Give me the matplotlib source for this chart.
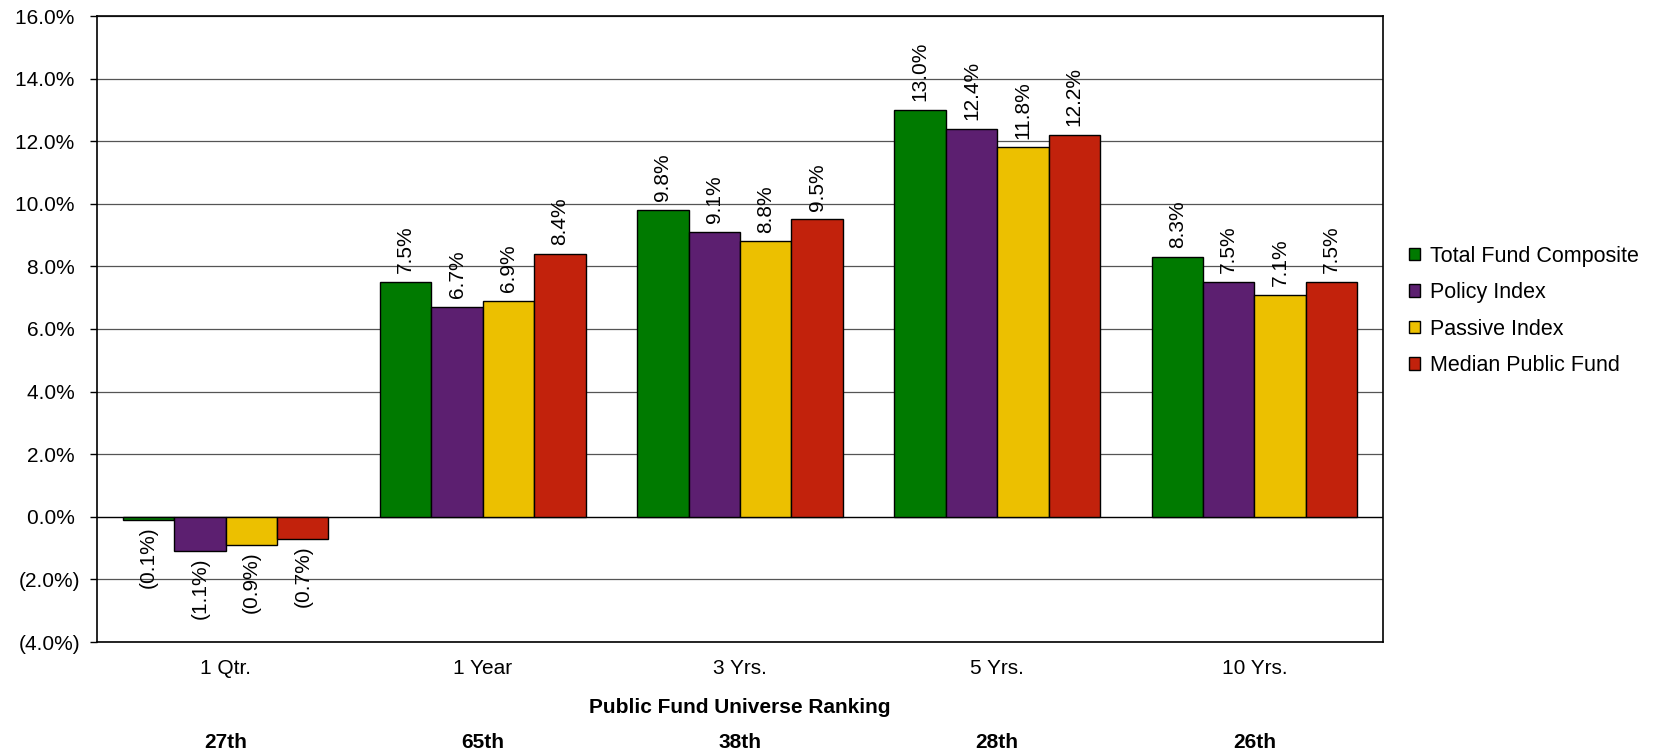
import numpy as np
import matplotlib
matplotlib.use("Agg")
import matplotlib.pyplot as plt
from matplotlib.ticker import FuncFormatter

plt.rcParams['font.family'] = ['Liberation Sans', 'DejaVu Sans']

# Returns by period
periods = ["1 Qtr.", "1 Year", "3 Yrs.", "5 Yrs.", "10 Yrs."]
rankings = ["27th", "65th", "38th", "28th", "26th"]
total_fund = [-0.1, 7.5, 9.8, 13.0, 8.3]
policy_index = [-1.1, 6.7, 9.1, 12.4, 7.5]
passive_index = [-0.9, 6.9, 8.8, 11.8, 7.1]
median_public = [-0.7, 8.4, 9.5, 12.2, 7.5]

series = [
    ("Total Fund Composite", total_fund, "#007A00"),
    ("Policy Index", policy_index, "#5C1F70"),
    ("Passive Index", passive_index, "#ECC000"),
    ("Median Public Fund", median_public, "#C2220C"),
]

FS = 15


def pct(v):
    return f"({abs(v):.1f}%)" if v < 0 else f"{v:.1f}%"


def axis_pct(v, _):
    # positive values keep room for the closing parenthesis
    return f"({abs(v):.1f}%)" if v < 0 else f"{v:.1f}% "


fig = plt.figure(figsize=(16.54, 7.53), dpi=100)
ax = fig.add_axes([97 / 1654, 1 - 642 / 753, (1383 - 97) / 1654, (642 - 16) / 753])

x = np.arange(len(periods))
width = 0.2
for i, (name, vals, color) in enumerate(series):
    pos = x + (i - 1.5) * width
    ax.bar(pos, vals, width, color=color, edgecolor="black", linewidth=1.0,
           label=name, zorder=3)
    for px, v in zip(pos, vals):
        if v >= 0:
            ax.text(px, v + 0.28, pct(v), rotation=90, ha="center", va="bottom",
                    fontsize=FS)
        else:
            ax.text(px, v - 0.2, pct(v), rotation=90, ha="center", va="top",
                    fontsize=FS)

ax.set_xlim(-0.5, len(periods) - 0.5)
ax.set_ylim(-4, 16)
ax.set_yticks(np.arange(-4, 17, 2))
ax.yaxis.set_major_formatter(FuncFormatter(axis_pct))
ax.grid(axis="y", color="#555555", linewidth=0.9, zorder=0)
ax.set_axisbelow(True)
ax.axhline(0, color="black", linewidth=0.9, zorder=2)

ax.set_xticks(x)
ax.set_xticklabels(periods)
ax.tick_params(axis="x", length=0, pad=12, labelsize=FS)
ax.tick_params(axis="y", length=5, width=1, labelsize=FS, pad=7)
for s in ax.spines.values():
    s.set_linewidth(1.2)

# Universe ranking rows under the axis
ax.text(0.5, -0.105, "Public Fund Universe Ranking", transform=ax.transAxes,
        ha="center", va="center", fontsize=FS, fontweight="bold")
for xi, r in zip(x, rankings):
    ax.text(xi, -0.16, r, transform=ax.get_xaxis_transform(), ha="center",
            va="center", fontsize=FS, fontweight="bold")

ax.legend(loc="center left", bbox_to_anchor=(1.012, 0.529), frameon=False,
          fontsize=15.5, borderpad=0, handlelength=0.5, handleheight=0.5,
          handletextpad=0.45, labelspacing=0.72)

fig.savefig("out.png", dpi=100)
